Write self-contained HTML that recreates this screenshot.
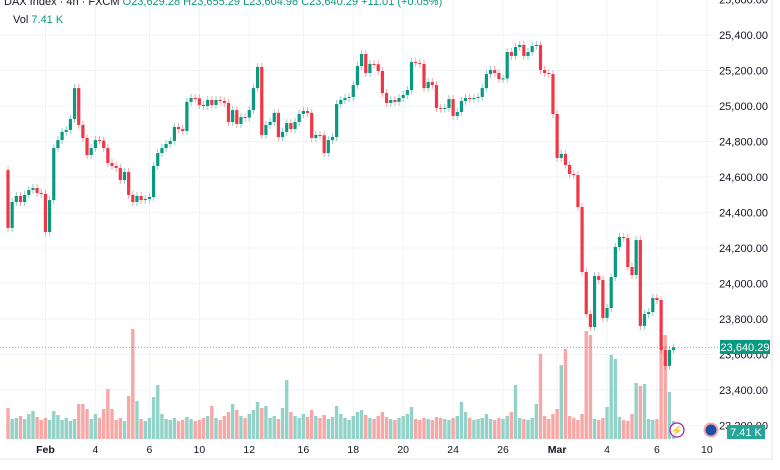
<!DOCTYPE html>
<html><head><meta charset="utf-8"><style>
body{margin:0;background:#fff;font-family:"Liberation Sans",sans-serif;}
svg{display:block}
</style></head><body>
<svg id="chart" width="780" height="470" viewBox="0 0 780 470" xmlns="http://www.w3.org/2000/svg">
<g id="grid"></g>
<g id="vol"></g>
<g id="candles"></g>
<g id="axes"></g>
<line x1="772" y1="0" x2="772" y2="459" stroke="#e0e3eb"/>
<line x1="0" y1="459" x2="772" y2="459" stroke="#e0e3eb"/>
<text x="4" y="5" font-size="11" fill="#131722">DAX Index · 4h · FXCM <tspan fill="#089981">O23,629.28 H23,655.29 L23,604.98 C23,640.29 +11.01 (+0.05%)</tspan></text>
<text x="13" y="23" font-size="11" fill="#131722">Vol <tspan fill="#089981">7.41 K</tspan></text>
<g><circle cx="677" cy="430" r="7" fill="#fff" stroke="#9c27b0" stroke-width="1.3"/><text x="677" y="434" font-size="10" fill="#9c27b0" text-anchor="middle">⚡</text></g>
<g><circle cx="711" cy="430" r="7.5" fill="#f7a9a7"/><circle cx="711" cy="430" r="5.5" fill="#1e4fa8"/></g>
<g><rect x="720" y="340" width="50" height="14" fill="#089981"/><text x="745" y="351" font-size="11" fill="#fff" text-anchor="middle">23,640.29</text></g>
<g><rect x="727" y="425" width="38" height="14" fill="#26a69a"/><text x="746" y="436" font-size="11" fill="#fff" text-anchor="middle">7.41 K</text></g>
</svg>
<script>
const firstOpen = 24639;
const closes = [24313,24459,24493,24459,24499,24527,24538,24510,24505,24290,24470,24763,24808,24854,24865,24927,25101,24893,24820,24724,24763,24808,24805,24763,24679,24662,24651,24583,24628,24499,24459,24493,24470,24476,24487,24662,24735,24763,24786,24803,24882,24870,24859,25023,25045,25043,25006,25000,25034,25006,25034,25028,25017,24910,24977,24899,24938,24935,24977,25101,25220,24837,24893,24910,24961,24825,24854,24904,24870,24910,24955,24972,24961,24820,24837,24835,24735,24808,24825,25011,25034,25045,25051,25118,25225,25293,25186,25237,25235,25197,25073,25017,25034,25023,25045,25062,25090,25248,25242,25237,25101,25135,25118,24989,24985,24989,25039,24944,24966,25028,25045,25039,25045,25051,25101,25180,25203,25186,25152,25155,25304,25282,25332,25344,25282,25304,25338,25344,25203,25186,25180,24955,24707,24730,24668,24617,24611,24431,24065,23828,23755,24042,24020,23806,23862,24036,24206,24262,24256,24093,24048,24245,23761,23828,23839,23918,23907,23625,23535,23625,23640];
const volumes = [31,20,21,23,20,25,28,22,19,21,19,28,24,19,21,18,20,35,35,30,20,25,21,30,50,30,19,21,18,43,110,38,20,18,21,42,54,25,20,19,21,18,19,22,20,18,19,21,23,33,21,19,23,27,35,29,23,21,25,29,37,31,33,21,23,20,31,59,27,23,21,25,22,29,23,21,24,20,22,33,25,21,19,23,27,29,24,21,20,23,27,22,20,19,21,23,25,32,20,19,21,20,19,22,21,20,19,21,23,37,27,21,19,20,21,25,20,19,21,20,23,27,54,21,20,19,21,35,85,23,20,25,30,74,90,23,21,19,25,108,104,20,19,21,32,84,80,22,19,18,25,56,53,55,20,19,20,104,104,47,18];
const priceTicks = [25600,25400,25200,25000,24800,24600,24400,24200,24000,23800,23600,23400,23200];
const dateLabels = ["Feb","4","6","10","12","16","18","20","24","26","Mar","4","6","10"];
const dateIdx = [9,21,34,46,58,71,83,95,107,119,132,144,156,168];

const NS="http://www.w3.org/2000/svg";
function yP(p){return 35+(25400-p)*0.1775;}
function xI(i){return 8+i*4.16;}
function yV(v){return 439-v;}
function mk(tag,attrs,parent){const e=document.createElementNS(NS,tag);for(const k in attrs)e.setAttribute(k,attrs[k]);parent.appendChild(e);return e;}
const grid=document.getElementById('grid'),axes=document.getElementById('axes'),vol=document.getElementById('vol'),cg=document.getElementById('candles');
priceTicks.forEach(p=>{
  const y=yP(p);
  const l=mk('line',{x1:0,x2:713,y1:y,y2:y,stroke:'#f0f3fa'},grid);
  
  
  const t=mk('text',{x:768,y:y+4,'font-size':11,fill:'#131722','text-anchor':'end'},axes);
  
  
  t.textContent=p.toLocaleString('en-US',{minimumFractionDigits:2});
});
dateLabels.forEach((d,k)=>{
  const x=xI(dateIdx[k]);
  const l=mk('line',{x1:x,x2:x,y1:0,y2:441,stroke:'#f0f3fa'},grid);
  
  
  const t=mk('text',{x:x,y:453,'font-size':10.5,fill:'#131722','text-anchor':'middle','font-weight':(d==='Feb'||d==='Mar')?'bold':'normal'},axes);
  
  
  t.textContent=d;
});
closes.forEach((c,i)=>{
  const o=i===0?firstOpen:closes[i-1];
  const up=c>=o;
  const x=xI(i);
  const v=mk('rect',{x:x-1.7,y:yV(volumes[i]),width:3.4,height:volumes[i],fill:up?'#92d2c8':'#f7a8a6'},vol);
  
  
  const col=up?'#089981':'#f23645';
  const top=Math.min(yP(o),yP(c)),bot=Math.max(yP(o),yP(c));
  const w=mk('line',{x1:x,x2:x,y1:top-4,y2:bot+4,stroke:col,'stroke-opacity':0.45,'stroke-width':1},cg);
  
  
  const b=mk('rect',{x:x-1.6,y:top,width:3.2,height:Math.max(1,bot-top),fill:col},cg);
  
  
});
const cl=mk('line',{x1:0,x2:720,y1:yP(23640),y2:yP(23640),stroke:'#089981','stroke-dasharray':'1 2','stroke-opacity':0.6},axes);


</script>
</body></html>
